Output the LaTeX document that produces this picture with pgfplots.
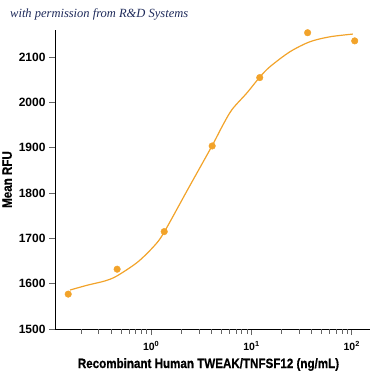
\documentclass[border=0pt]{standalone}
\usepackage{pgfplots}
\pgfplotsset{compat=1.18}
\usepackage{fontspec}
\setmainfont{Liberation Sans}
\newfontfamily\labelfont[FakeStretch=0.86,FakeBold=0.6]{Liberation Sans}
\newfontfamily\wmfont{Liberation Serif}
\definecolor{rdorange}{RGB}{242,163,42}
\definecolor{wmblue}{RGB}{30,42,90}
\definecolor{tickgray}{RGB}{100,100,100}
\begin{document}
\begin{tikzpicture}
\useasboundingbox (-55pt,-46pt) rectangle (320pt,329pt);
\begin{axis}[
  scale only axis,
  width=315pt, height=299pt,
  xmode=log, log basis x=10,
  xmin=0.11, xmax=152,
  ymin=1500, ymax=2160,
  axis x line=bottom, axis y line=left,
  axis line style={-, black, line width=0.8pt},
  xtick={1,10,100},
  xticklabels={10\textsuperscript{0},10\textsuperscript{1},10\textsuperscript{2}},
  extra x ticks={0.2,0.3,0.4,0.5,0.6,0.7,0.8,0.9,2,3,4,5,6,7,8,9,20,30,40,50,60,70,80,90},
  extra x tick labels={},
  extra x tick style={major tick length=4.5pt, grid=none},
  ytick={1500,1600,1700,1800,1900,2000,2100},
  tick align=outside,
  major tick length=6pt,
  every tick/.style={tickgray, line width=0.7pt},
  /pgf/number format/assume math mode=true,
  /pgf/number format/set thousands separator={},
  yticklabel style={font=\fontsize{12}{12}\selectfont\bfseries},
  xticklabel style={font=\fontsize{10.5}{10.5}\selectfont\bfseries, yshift=-3pt},
  xlabel={\labelfont\bfseries\fontsize{13.5}{13.5}\selectfont Recombinant Human TWEAK/TNFSF12 (ng/mL)},
  ylabel={\labelfont\bfseries\fontsize{13.5}{13.5}\selectfont Mean RFU},
  xlabel style={at={(axis description cs:0.5,0)}, anchor=base, yshift=-39pt, xshift=-4pt},
  clip=false,
]
\addplot[rdorange, line width=1.2pt, smooth, tension=0.5] coordinates {
(0.155,1586) (0.234,1597) (0.345,1606) (0.455,1617) (0.736,1648)
(1.089,1685) (1.35,1714) (2.33,1809) (4.04,1904) (5.07,1946)
(6.38,1984) (9.0,2021) (12.1,2056) (15.3,2079) (24.2,2112)
(38.2,2134) (60.5,2145) (102.6,2151)
};
\addplot[only marks, mark=*, mark size=3.3pt, color=rdorange, mark options={draw=rdorange, fill=rdorange}] coordinates {
(0.149,1577) (0.458,1632) (1.35,1715) (4.06,1904) (12.1,2055) (36.3,2154) (107,2136)
};
\end{axis}
\node[anchor=base west, inner sep=0pt, text=wmblue, font=\wmfont\itshape\fontsize{12.5}{12.5}\selectfont] at (-45pt,311pt) {with permission from R\&D Systems};
\end{tikzpicture}
\end{document}
